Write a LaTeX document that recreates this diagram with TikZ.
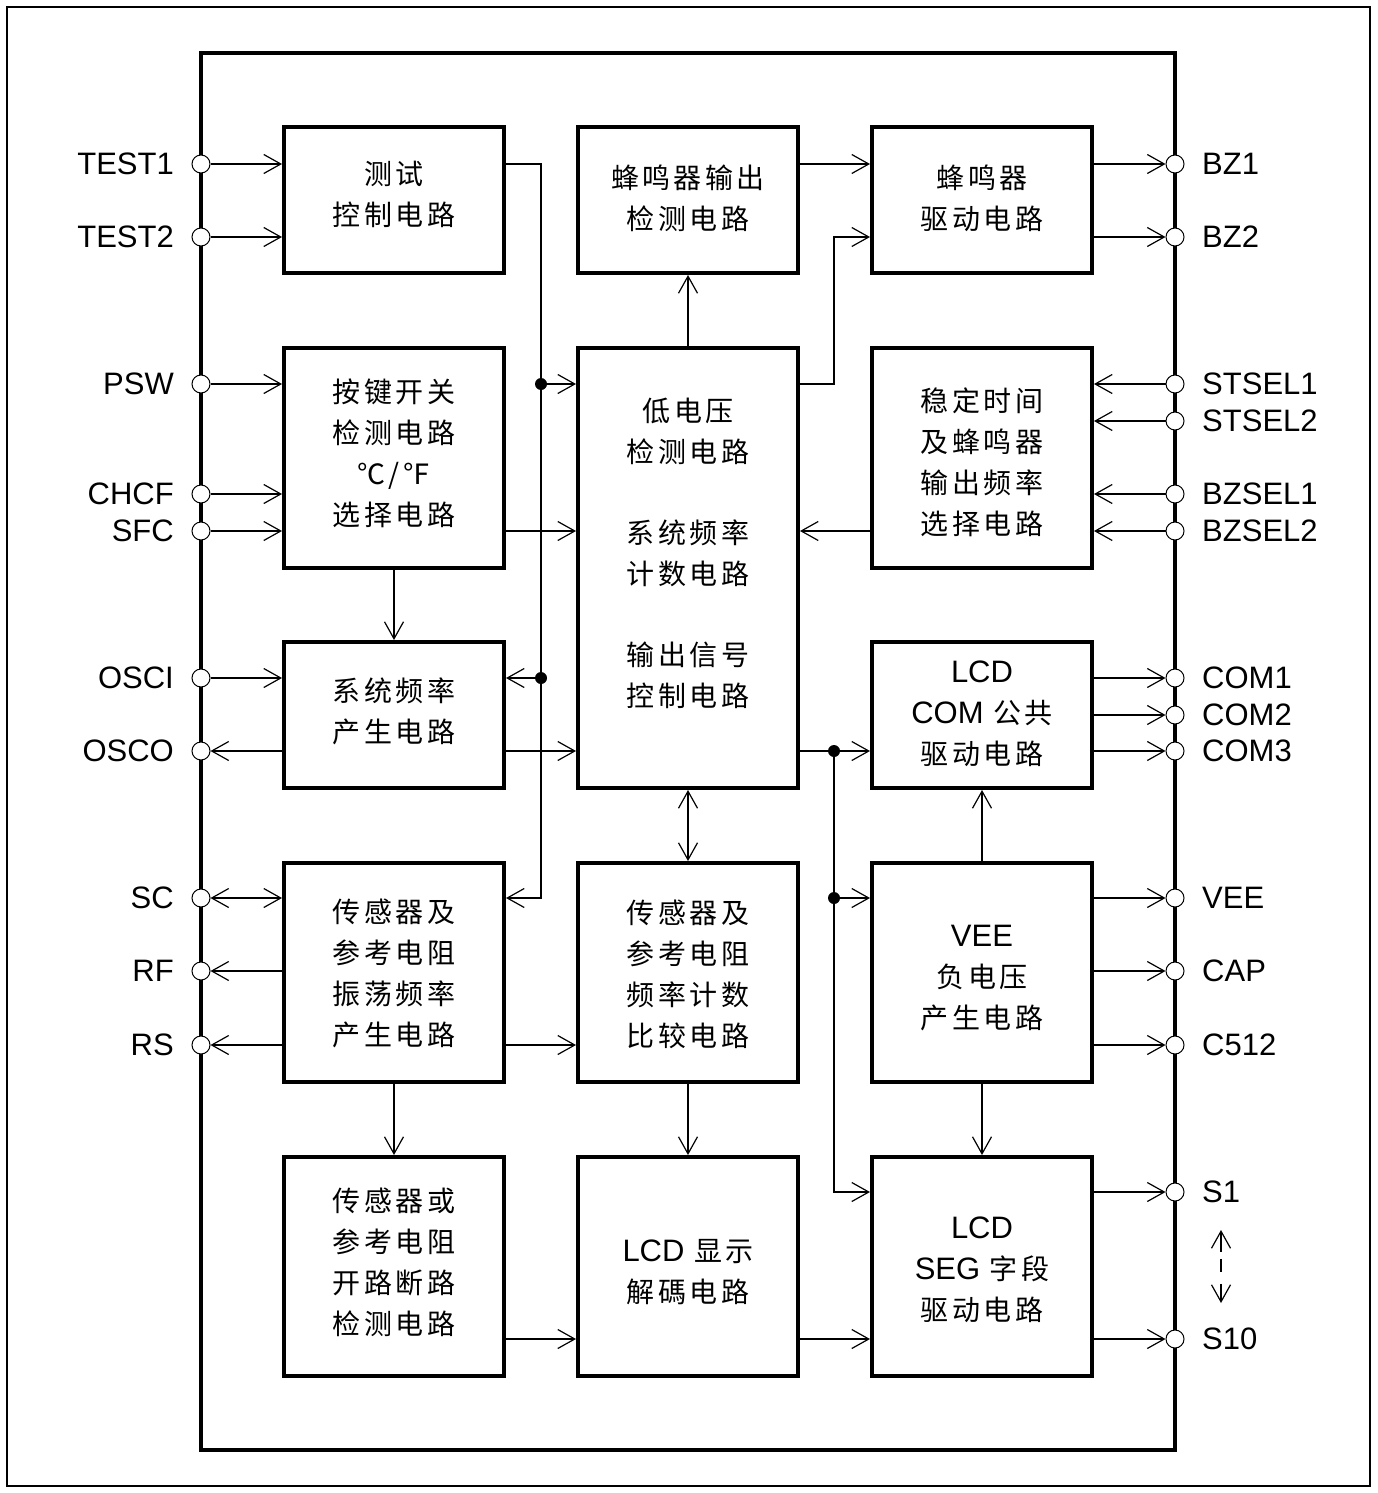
\documentclass[tikz,border=0pt]{standalone}
\usepackage{fontspec}
\setmainfont{Liberation Sans}
\newfontfamily\cjk[LetterSpace=12]{Noto Sans CJK SC}
\newfontfamily\latf{Liberation Sans}
\newcommand\LT[1]{{\latf\fontsize{31}{41}\selectfont #1}}
\usetikzlibrary{arrows.meta}
\begin{document}
\begin{tikzpicture}[x=1pt,y=-1pt,
 blk/.style={draw,line width=4pt,minimum width=220pt,inner sep=0pt},
 txt/.style={align=center,font=\cjk\fontsize{28}{41}\selectfont,inner sep=0pt},
 wire/.style={line width=1.2pt},
 arr/.style={wire,-{Straight Barb[length=17pt,width=19pt]}},
 darr/.style={wire,{Straight Barb[length=17pt,width=19pt]}-{Straight Barb[length=17pt,width=19pt]}},
 pin/.style={circle,draw,fill=white,line width=1pt,minimum size=18pt,inner sep=0pt},
 dot/.style={circle,fill=black,minimum size=12pt,inner sep=0pt},
 lbl/.style={font=\fontsize{31}{31}\selectfont,inner sep=0pt},
]
\useasboundingbox (0,0) rectangle (1377,1493);
\draw[line width=2pt] (7,7) rectangle (1370,1486);
\node[draw,line width=4pt,minimum width=974pt,minimum height=1397pt,inner sep=0pt] (chip) at (688,751.5) {};

% blocks
\node[blk,minimum height=146pt,label={[txt,yshift=6pt]center:测试\\控制电路}] (A) at (394,200) {};
\node[blk,minimum height=220pt,label={[txt,yshift=5pt]center:按键开关\\检测电路\\℃/℉\\选择电路}] (B) at (394,458) {};
\node[blk,minimum height=146pt,label={[txt,yshift=4pt]center:系统频率\\产生电路}] (C) at (394,715) {};
\node[blk,minimum height=219pt,label={[txt,yshift=-1pt]center:传感器及\\参考电阻\\振荡频率\\产生电路}] (D) at (394,972.5) {};
\node[blk,minimum height=219pt,label={[txt,yshift=4pt]center:传感器或\\参考电阻\\开路断路\\检测电路}] (E) at (394,1266.5) {};
\node[blk,minimum height=146pt,label={[txt,yshift=2pt]center:蜂鸣器输出\\检测电路}] (F) at (688,200) {};
\node[blk,minimum height=440pt,label={[txt,yshift=15pt]center:低电压\\检测电路\\[40pt]系统频率\\计数电路\\[40pt]输出信号\\控制电路}] (G) at (688,568) {};
\node[blk,minimum height=219pt,label={[txt,yshift=-2pt]center:传感器及\\参考电阻\\频率计数\\比较电路}] (H) at (688,972.5) {};
\node[blk,minimum height=219pt,label={[txt,yshift=-6pt]center:\LT{LCD} 显示\\解碼电路}] (I) at (688,1266.5) {};
\node[blk,minimum height=146pt,label={[txt,yshift=2pt]center:蜂鸣器\\驱动电路}] (J) at (982,200) {};
\node[blk,minimum height=220pt,label={[txt,yshift=-4pt]center:稳定时间\\及蜂鸣器\\输出频率\\选择电路}] (K) at (982,458) {};
\node[blk,minimum height=146pt,label={[txt,yshift=1pt]center:\LT{LCD}\\\LT{COM} 公共\\驱动电路}] (L) at (982,715) {};
\node[blk,minimum height=219pt,label={[txt,yshift=-6pt]center:\LT{VEE}\\负电压\\产生电路}] (M) at (982,972.5) {};
\node[blk,minimum height=219pt,label={[txt,yshift=-3pt]center:\LT{LCD}\\\LT{SEG} 字段\\驱动电路}] (N) at (982,1266.5) {};

% pins left
\foreach \n/\y in {TEST1/164,TEST2/237,PSW/384,CHCF/494,SFC/531,OSCI/678,OSCO/751,SC/898,RF/971,RS/1045}{
  \node[pin] (p\n) at (201,\y) {};
  \node[lbl,anchor=east] (l\n) at (174,\y) {\n};
}
% pins right
\foreach \n/\y in {BZ1/164,BZ2/237,STSEL1/384,STSEL2/421,BZSEL1/494,BZSEL2/531,COM1/678,COM2/715,COM3/751,VEE/898,CAP/971,C512/1045,S1/1192,S10/1339}{
  \node[pin] (p\n) at (1175,\y) {};
  \node[lbl,anchor=west] (l\n) at (1202,\y) {\n};
}

% coordinates
\coordinate (b1) at (541,164);
\coordinate (b2) at (541,898);
\node[dot] (jA) at (541,384) {};
\node[dot] (jC) at (541,678) {};
\coordinate (c1) at (834,384);
\coordinate (c2) at (834,237);
\node[dot] (jL) at (834,751) {};
\node[dot] (jM) at (834,898) {};
\coordinate (c3) at (834,1192);
\coordinate (sA) at (1221,1230);
\coordinate (sB) at (1221,1303);

% left inputs
\draw[arr] (pTEST1) -- (pTEST1 -| A.west);
\draw[arr] (pTEST2) -- (pTEST2 -| A.west);
\draw[arr] (pPSW) -- (pPSW -| B.west);
\draw[arr] (pCHCF) -- (pCHCF -| B.west);
\draw[arr] (pSFC) -- (pSFC -| B.west);
\draw[arr] (pOSCI) -- (pOSCI -| C.west);
\draw[arr] (pOSCO -| C.west) -- (pOSCO);
\draw[darr] (pSC) -- (pSC -| D.west);
\draw[arr] (pRF -| D.west) -- (pRF);
\draw[arr] (pRS -| D.west) -- (pRS);

% bus from test block
\draw[arr] (b1 -| A.east) -- (b1) -- (b2) -- (b2 -| D.east);
\draw[arr] (jA) -- (jA -| G.west);
\draw[arr] (jC) -- (jC -| C.east);

% column 1 to column 2
\draw[arr] (pSFC -| B.east) -- (pSFC -| G.west);
\draw[arr] (pOSCO -| C.east) -- (pOSCO -| G.west);
\draw[arr] (B.south) -- (C.north);
\draw[arr] (D.south) -- (E.north);
\draw[arr] (pRS -| D.east) -- (pRS -| H.west);
\draw[arr] (pS10 -| E.east) -- (pS10 -| I.west);

% column 2
\draw[arr] (G.north) -- (F.south);
\draw[darr] (G.south) -- (H.north);
\draw[arr] (H.south) -- (I.north);
\draw[arr] (pS10 -| I.east) -- (pS10 -| N.west);
\draw[arr] (pBZ1 -| F.east) -- (pBZ1 -| J.west);
\draw[arr] (c1 -| G.east) -- (c1) -- (c2) -- (c2 -| J.west);
\draw[arr] (pBZSEL2 -| K.west) -- (pBZSEL2 -| G.east);
\draw[arr] (pCOM3 -| G.east) -- (pCOM3 -| L.west);
\draw[arr] (jL) -- (c3) -- (c3 -| N.west);
\draw[arr] (jM) -- (jM -| M.west);

% column 3
\draw[arr] (pBZ1 -| J.east) -- (pBZ1);
\draw[arr] (pBZ2 -| J.east) -- (pBZ2);
\draw[arr] (pSTSEL1) -- (pSTSEL1 -| K.east);
\draw[arr] (pSTSEL2) -- (pSTSEL2 -| K.east);
\draw[arr] (pBZSEL1) -- (pBZSEL1 -| K.east);
\draw[arr] (pBZSEL2) -- (pBZSEL2 -| K.east);
\draw[arr] (pCOM1 -| L.east) -- (pCOM1);
\draw[arr] (pCOM2 -| L.east) -- (pCOM2);
\draw[arr] (pCOM3 -| L.east) -- (pCOM3);
\draw[arr] (M.north) -- (L.south);
\draw[arr] (M.south) -- (N.north);
\draw[arr] (pVEE -| M.east) -- (pVEE);
\draw[arr] (pCAP -| M.east) -- (pCAP);
\draw[arr] (pC512 -| M.east) -- (pC512);
\draw[arr] (pS1 -| N.east) -- (pS1);
\draw[arr] (pS10 -| N.east) -- (pS10);

% S1..S10 range
\draw[darr,dash pattern=on 20pt off 7pt on 13pt off 12pt on 30pt] (sA) -- (sB);
\end{tikzpicture}
\end{document}
